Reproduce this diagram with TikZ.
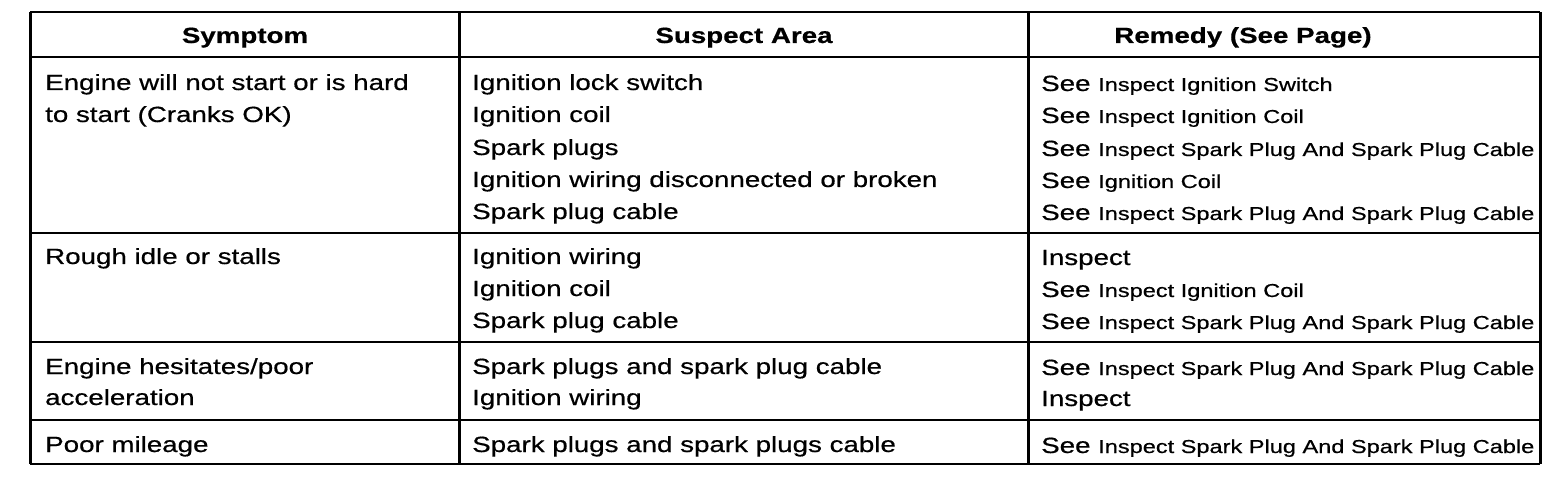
\documentclass[tikz,border=0pt]{standalone}
\usepackage{fontspec}
\setmainfont{Liberation Sans}[FakeBold=0.5]
\newcommand\hstr[1]{\scalebox{1.26}[1]{#1}}
\newcommand\smallf{\fontsize{18.7}{22}\selectfont}
\begin{document}
\begin{tikzpicture}[x=1pt,y=-1pt,
  txt/.style={anchor=base west, inner sep=0pt, font=\fontsize{22}{26}\selectfont},
  hdr/.style={anchor=base, inner sep=0pt, font=\fontsize{22}{26}\selectfont\bfseries},
  rulev/.style={line width=3pt},
  ruleh/.style={line width=2.5pt}]
\useasboundingbox (0,0) rectangle (1568,486);
% grid
\draw[ruleh] (30,12) -- (1540,12);
\draw[line width=2pt] (30,57) -- (1540,57);
\draw[ruleh] (30,233) -- (1540,233);
\draw[ruleh] (30,342) -- (1540,342);
\draw[ruleh] (30,420) -- (1540,420);
\draw[ruleh] (30,464) -- (1540,464);
\draw[rulev] (30,12) -- (30,464);
\draw[rulev] (459,12) -- (459,464);
\draw[rulev] (1028,12) -- (1028,464);
\draw[rulev] (1540,12) -- (1540,464);
% headers
\node[hdr] (h1) at (245,43) {\hstr{Symptom}};
\node[hdr] (h2) at (744,43) {\hstr{Suspect Area}};
\node[hdr] (h3) at (1243,43) {\hstr{Remedy (See Page)}};
% row 1
\node[txt] (s1a) at (45,90) {\hstr{Engine will not start or is hard}};
\node[txt] (s1b) at (45,122) {\hstr{to start (Cranks OK)}};
\node[txt] (a1a) at (472,90) {\hstr{Ignition lock switch}};
\node[txt] (a1b) at (472,122) {\hstr{Ignition coil}};
\node[txt] (a1c) at (472,155) {\hstr{Spark plugs}};
\node[txt] (a1d) at (472,187) {\hstr{Ignition wiring disconnected or broken}};
\node[txt] (a1e) at (472,219) {\hstr{Spark plug cable}};
\node[txt] (r1a) at (1041,91) {\hstr{See {\smallf Inspect Ignition Switch}}};
\node[txt] (r1b) at (1041,123) {\hstr{See {\smallf Inspect Ignition Coil}}};
\node[txt] (r1c) at (1041,156) {\hstr{See {\smallf Inspect Spark Plug And Spark Plug Cable}}};
\node[txt] (r1d) at (1041,188) {\hstr{See {\smallf Ignition Coil}}};
\node[txt] (r1e) at (1041,220) {\hstr{See {\smallf Inspect Spark Plug And Spark Plug Cable}}};
% row 2
\node[txt] (s2a) at (45,264) {\hstr{Rough idle or stalls}};
\node[txt] (a2a) at (472,264) {\hstr{Ignition wiring}};
\node[txt] (a2b) at (472,296) {\hstr{Ignition coil}};
\node[txt] (a2c) at (472,328) {\hstr{Spark plug cable}};
\node[txt] (r2a) at (1041,265) {\hstr{Inspect}};
\node[txt] (r2b) at (1041,297) {\hstr{See {\smallf Inspect Ignition Coil}}};
\node[txt] (r2c) at (1041,329) {\hstr{See {\smallf Inspect Spark Plug And Spark Plug Cable}}};
% row 3
\node[txt] (s3a) at (45,374) {\hstr{Engine hesitates/poor}};
\node[txt] (s3b) at (45,405) {\hstr{acceleration}};
\node[txt] (a3a) at (472,374) {\hstr{Spark plugs and spark plug cable}};
\node[txt] (a3b) at (472,405) {\hstr{Ignition wiring}};
\node[txt] (r3a) at (1041,375) {\hstr{See {\smallf Inspect Spark Plug And Spark Plug Cable}}};
\node[txt] (r3b) at (1041,406) {\hstr{Inspect}};
% row 4
\node[txt] (s4a) at (45,452) {\hstr{Poor mileage}};
\node[txt] (a4a) at (472,452) {\hstr{Spark plugs and spark plugs cable}};
\node[txt] (r4a) at (1041,453) {\hstr{See {\smallf Inspect Spark Plug And Spark Plug Cable}}};
\end{tikzpicture}
\end{document}
